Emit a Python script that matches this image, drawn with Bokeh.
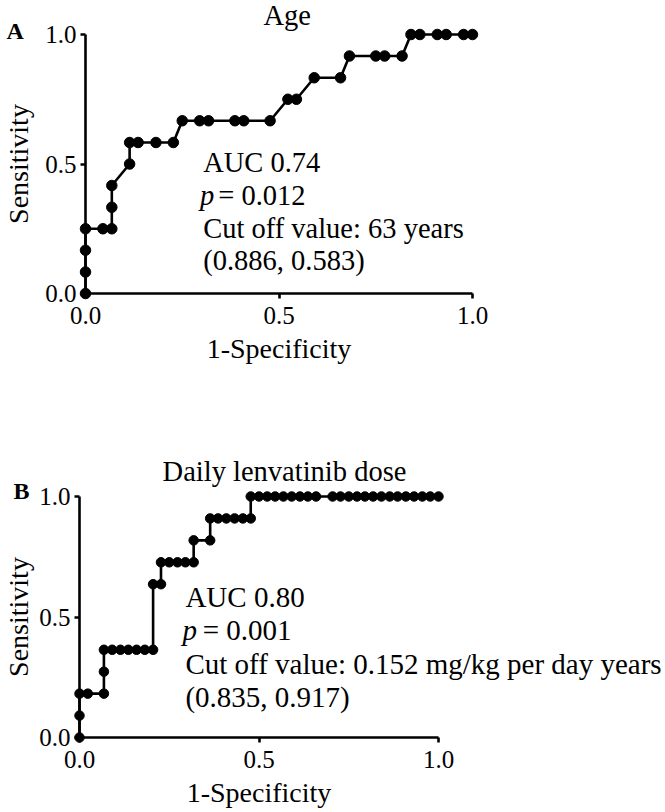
from bokeh.plotting import figure
from bokeh.models import Range1d, FixedTicker, PrintfTickFormatter
from bokeh.core.properties import value
from bokeh.embed import file_html
from bokeh.resources import INLINE

# ROC points for age (1-specificity, sensitivity)
age_fpr = [0, 0, 0, 0, 0.045, 0.068, 0.068, 0.068, 0.114, 0.114, 0.136, 0.182,
           0.227, 0.250, 0.295, 0.318, 0.386, 0.409, 0.477, 0.523, 0.545, 0.591,
           0.659, 0.682, 0.750, 0.773, 0.818, 0.841, 0.864, 0.909, 0.932, 0.977, 1.0]
age_sens = [0, 0.083, 0.167, 0.250, 0.250, 0.250, 0.333, 0.417, 0.500, 0.583, 0.583,
            0.583, 0.583, 0.667, 0.667, 0.667, 0.667, 0.667, 0.667, 0.750, 0.750,
            0.833, 0.833, 0.917, 0.917, 0.917, 0.917, 1.0, 1.0, 1.0, 1.0, 1.0, 1.0]

# ROC points for daily lenvatinib dose
dose_fpr = [0, 0, 0, 0.023, 0.068, 0.068, 0.068, 0.091, 0.114, 0.136, 0.159, 0.182,
            0.205, 0.205, 0.227, 0.227, 0.250, 0.273, 0.295, 0.318, 0.318, 0.364,
            0.364, 0.386, 0.409, 0.432, 0.455, 0.477, 0.477, 0.500, 0.523, 0.545,
            0.568, 0.591, 0.614, 0.636, 0.659, 0.705, 0.727, 0.750, 0.773, 0.795,
            0.818, 0.841, 0.864, 0.886, 0.909, 0.932, 0.955, 0.977, 1.0]
dose_sens = [0, 0.091, 0.182, 0.182, 0.182, 0.273, 0.364, 0.364, 0.364, 0.364, 0.364,
             0.364, 0.364, 0.636, 0.636, 0.727, 0.727, 0.727, 0.727, 0.727, 0.818,
             0.818, 0.909, 0.909, 0.909, 0.909, 0.909, 0.909] + [1.0] * 23

axis_ticks = [0.0, 0.5, 1.0]

SERIF = "Liberation Serif"


def put_text(p, x, y, text, size="28.5px", style="normal", align="left"):
    # free text drawn on the overlay level so it may run past the frame
    p.text(x=[x], y=[y], text=[text], text_font=value(SERIF), text_font_size=size,
           text_font_style=style, text_align=align, text_baseline="alphabetic",
           text_color="black", level="overlay")


def roc_panel(fpr, sens, letter, title, stats, width, height, borders, dot,
              text_x, p_x, eq_x, ys, title_x, title_y, letter_xy, ylabel_standoff,
              note_size="28.5px"):
    left, right, top, bottom = borders
    p = figure(width=width, height=height, output_backend="svg", toolbar_location=None,
               x_range=Range1d(0, 1), y_range=Range1d(0, 1),
               min_border_left=left, min_border_right=right,
               min_border_top=top, min_border_bottom=bottom)
    p.outline_line_color = None
    p.xgrid.grid_line_color = None
    p.ygrid.grid_line_color = None
    p.background_fill_color = "white"
    p.border_fill_color = "white"

    for ax in (p.xaxis, p.yaxis):
        ax.ticker = FixedTicker(ticks=axis_ticks)
        ax.formatter = PrintfTickFormatter(format="%.1f")
        ax.axis_line_width = 2.6
        ax.axis_line_color = "black"
        ax.major_tick_line_width = 2.6
        ax.major_tick_line_color = "black"
        ax.major_tick_out = 5
        ax.major_tick_in = 0
        ax.minor_tick_line_color = None
        ax.major_label_text_font = SERIF
        ax.major_label_text_font_size = "25px"
        ax.major_label_text_color = "black"
        ax.axis_label_text_font = SERIF
        ax.axis_label_text_font_size = "28px"
        ax.axis_label_text_font_style = "normal"
        ax.axis_label_text_color = "black"

    p.xaxis.axis_label = "1-Specificity"
    p.yaxis.axis_label = "Sensitivity"
    p.xaxis.major_label_standoff = 8
    p.yaxis.major_label_standoff = 4
    p.xaxis.axis_label_standoff = 6
    p.yaxis.axis_label_standoff = ylabel_standoff

    p.line(fpr, sens, line_color="black", line_width=2.6, level="overlay")
    p.scatter(fpr, sens, size=dot, marker="circle", fill_color="black",
              line_color="black", level="overlay")

    put_text(p, title_x, title_y, title, align="center")
    put_text(p, letter_xy[0], letter_xy[1], letter, size="24px", style="bold")

    auc, pval, cutoff, point = stats
    put_text(p, text_x, ys[0], auc, size=note_size)
    put_text(p, p_x, ys[1], "p", size=note_size, style="italic")
    put_text(p, eq_x, ys[1], pval, size=note_size)
    put_text(p, text_x, ys[2], cutoff, size=note_size)
    put_text(p, text_x, ys[3], point, size=note_size)
    return p


pA = roc_panel(age_fpr, age_sens, "A", "Age",
               ("AUC 0.74", "= 0.012", "Cut off value: 63 years", "(0.886, 0.583)"),
               width=665, height=455, borders=(84, 193, 34, 162), dot=10.5,
               text_x=0.304, p_x=0.296, eq_x=0.343, ys=(0.506, 0.378, 0.251, 0.127),
               title_x=0.521, title_y=1.073, letter_xy=(-0.204, 1.012),
               ylabel_standoff=8)

pB = roc_panel(dose_fpr, dose_sens, "B", "Daily lenvatinib dose",
               ("AUC 0.80", "= 0.001", "Cut off value: 0.152 mg/kg per day years",
                "(0.835, 0.917)"),
               width=665, height=357, borders=(79, 227, 41, 75), dot=9.5,
               text_x=0.295, p_x=0.287, eq_x=0.343, ys=(0.581, 0.444, 0.307, 0.170),
               title_x=0.571, title_y=1.104, letter_xy=(-0.184, 1.021),
               ylabel_standoff=2, note_size="29px")

# two independent roots, stacked, so each panel keeps its own frame geometry
with open("out.html", "w") as f:
    f.write(file_html([pA, pB], INLINE))
